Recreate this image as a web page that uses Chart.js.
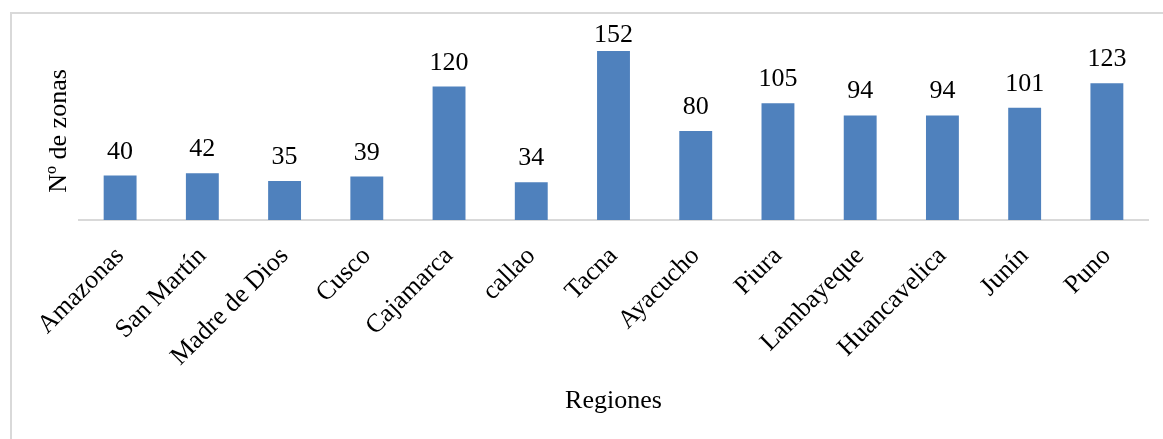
<!DOCTYPE html>
<html>
<head>
<meta charset="utf-8">
<script src="https://cdn.jsdelivr.net/npm/chart.js@4.4.1/dist/chart.umd.min.js"></script>
<style>
  html, body { margin: 0; padding: 0; background: #fff; overflow: hidden; }
  #wrap { position: relative; width: 1163px; height: 439px; }
  #frame { position: absolute; left: 10px; top: 12px; width: 1200px; height: 500px;
           border-top: 2px solid #d9d9d9; border-left: 2px solid #d9d9d9; box-sizing: border-box; }
  canvas { position: absolute; left: 0; top: 0; }
</style>
</head>
<body>
<div id="wrap">
  <div id="frame"></div>
  <canvas id="zonasChart" width="1163" height="439"></canvas>
</div>
<script>
var regiones = ['Amazonas', 'San Martín', 'Madre de Dios', 'Cusco', 'Cajamarca', 'callao',
                'Tacna', 'Ayacucho', 'Piura', 'Lambayeque', 'Huancavelica', 'Junín', 'Puno'];
var zonas = [40, 42, 35, 39, 120, 34, 152, 80, 105, 94, 94, 101, 123];
var yMax = 160;

var serif = '"Liberation Serif", "Times New Roman", serif';

// etiquetas de valor encima de cada barra
var valueLabels = {
    id: 'valueLabels',
    afterDatasetsDraw: function (chart) {
        var ctx = chart.ctx;
        var meta = chart.getDatasetMeta(0);
        ctx.save();
        ctx.font = '26px ' + serif;
        ctx.fillStyle = '#000';
        ctx.textAlign = 'center';
        ctx.textBaseline = 'alphabetic';
        meta.data.forEach(function (bar, i) {
            var y = Math.max(bar.y - 17, 42);
            ctx.fillText(String(zonas[i]), bar.x, y);
        });
        ctx.restore();
    }
};

var ctx = document.getElementById('zonasChart');
var chart = new Chart(ctx, {
    type: 'bar',
    data: {
        labels: regiones,
        datasets: [{
            label: 'Nº de zonas',
            data: zonas,
            backgroundColor: '#4f81bd',
            borderWidth: 0,
            categoryPercentage: 1,
            barPercentage: 0.4
        }]
    },
    options: {
        responsive: false,
        animation: false,
        devicePixelRatio: 1,
        layout: { padding: { left: 0, top: 42, right: 15, bottom: 0 } },
        plugins: {
            legend: { display: false },
            tooltip: { enabled: false }
        },
        scales: {
            x: {
                grid: { display: false, drawTicks: false },
                border: { display: true, color: '#d9d9d9', width: 2 },
                ticks: {
                    color: '#000',
                    font: { family: serif, size: 26 },
                    minRotation: 45,
                    maxRotation: 45,
                    padding: 21
                },
                title: {
                    display: true,
                    text: 'Regiones',
                    color: '#000',
                    font: { family: serif, size: 26 },
                    padding: { top: 0, bottom: 22 }
                },
                afterFit: function (axis) { axis.height = 219; }
            },
            y: {
                min: 0,
                max: yMax,
                grid: { display: false, drawTicks: false },
                border: { display: false },
                ticks: { display: false },
                title: {
                    display: true,
                    text: 'Nº de zonas',
                    color: '#000',
                    font: { family: serif, size: 26 },
                    padding: { top: 44, bottom: 0 }
                },
                afterFit: function (axis) { axis.width = 79; }
            }
        }
    },
    plugins: [valueLabels]
});
</script>
</body>
</html>
